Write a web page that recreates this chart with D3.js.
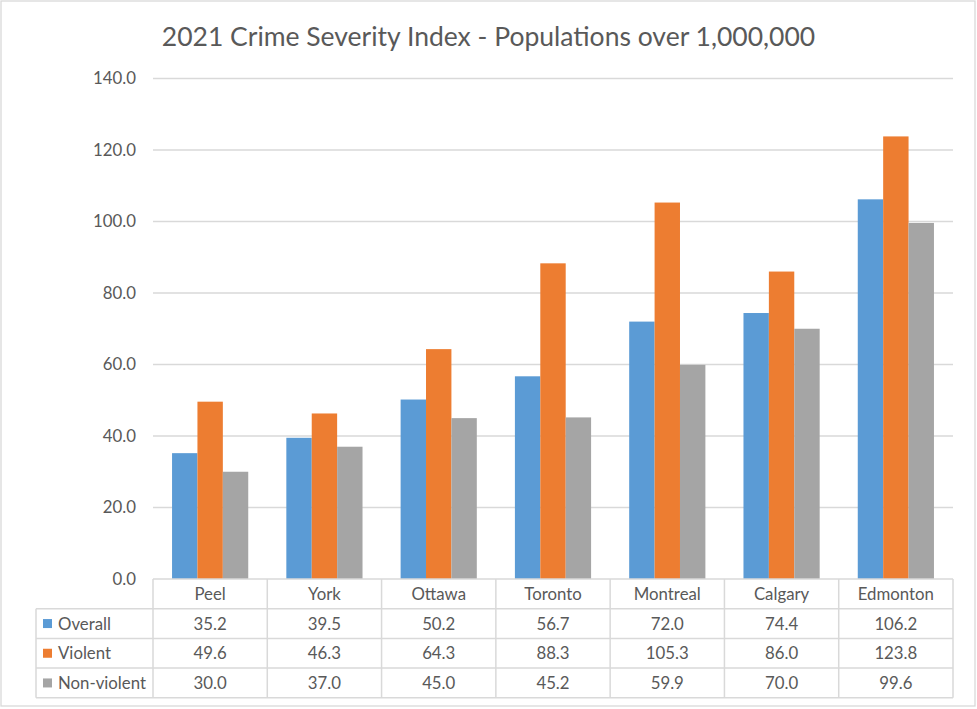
<!DOCTYPE html>
<html>
<head>
<meta charset="utf-8">
<script src="https://cdn.jsdelivr.net/npm/d3@7"></script>
<style>
  html, body { margin: 0; padding: 0; background: #fff; }
  svg text { font-family: Lato, "Open Sans", sans-serif; fill: #595959; }
</style>
</head>
<body>
<div id="chart"></div>
<script>
'use strict';

// Data
const cities = ['Peel', 'York', 'Ottawa', 'Toronto', 'Montreal', 'Calgary', 'Edmonton'];
const seriesNames = ['Overall', 'Violent', 'Non-violent'];
const overall = [35.2, 39.5, 50.2, 56.7, 72.0, 74.4, 106.2];
const violent = [49.6, 46.3, 64.3, 88.3, 105.3, 86.0, 123.8];
const nonViolent = [30.0, 37.0, 45.0, 45.2, 59.9, 70.0, 99.6];
const yTicks = [0, 20, 40, 60, 80, 100, 120, 140];
const colors = ['#5B9BD5', '#ED7D31', '#A5A5A5'];

const series = [overall, violent, nonViolent];

const width = 977, height = 709;
const plot = { left: 153, right: 953, top: 78.5, bottom: 579 };
const rowH = 29.7;
const tableLeft = 36;
const fontSize = '16.8px';

const svg = d3.select('#chart').append('svg')
  .attr('width', width)
  .attr('height', height);

// Outer frame
svg.append('rect')
  .attr('x', 1).attr('y', 1)
  .attr('width', 974).attr('height', 705)
  .attr('fill', '#fff')
  .attr('stroke', '#D9D9D9')
  .attr('stroke-width', 1.3);

// Title
svg.append('text')
  .attr('x', 488.5).attr('y', 46)
  .attr('text-anchor', 'middle')
  .style('font-size', '26.5px')
  .text('2021 Crime Severity Index - Populations over 1,000,000');

// Scales
const x0 = d3.scaleBand()
  .domain(cities)
  .range([plot.left, plot.right])
  .padding(0);

const bw = x0.bandwidth();
const x1 = d3.scaleBand()
  .domain(seriesNames)
  .range([bw / 6, bw * 5 / 6])
  .padding(0);

const y = d3.scaleLinear()
  .domain([0, 140])
  .range([plot.bottom, plot.top]);

// Gridlines
svg.append('g')
  .selectAll('line')
  .data(yTicks.filter(d => d > 0))
  .enter().append('line')
    .attr('x1', plot.left).attr('x2', plot.right)
    .attr('y1', d => y(d)).attr('y2', d => y(d))
    .attr('stroke', '#D9D9D9')
    .attr('stroke-width', 1.3);

// Y axis labels
const yAxis = svg.append('g')
  .attr('transform', 'translate(' + (plot.left - 17) + ',0)')
  .call(d3.axisLeft(y).tickValues(yTicks).tickFormat(d3.format('.1f')).tickSize(0).tickPadding(0));
yAxis.select('.domain').remove();
yAxis.selectAll('text')
  .style('font-size', fontSize)
  .attr('fill', '#595959')
  .style('font-family', 'Lato, "Open Sans", sans-serif');

// Bars
const groups = svg.append('g')
  .selectAll('g')
  .data(cities)
  .enter().append('g')
    .attr('transform', d => 'translate(' + x0(d) + ',0)');

groups.selectAll('rect')
  .data((c, i) => seriesNames.map((s, k) => ({ s: s, k: k, v: series[k][i] })))
  .enter().append('rect')
    .attr('x', d => x1(d.s))
    .attr('width', x1.bandwidth())
    .attr('y', d => y(d.v))
    .attr('height', d => y(0) - y(d.v))
    .attr('fill', d => colors[d.k]);

// Data table
const table = svg.append('g');
const lineColor = '#D9D9D9';
const tBottom = plot.bottom + rowH * 4;

// horizontal lines
table.append('line')
  .attr('x1', plot.left).attr('x2', plot.right)
  .attr('y1', plot.bottom).attr('y2', plot.bottom)
  .attr('stroke', lineColor).attr('stroke-width', 1.5);
[1, 2, 3, 4].forEach(r => {
  table.append('line')
    .attr('x1', tableLeft).attr('x2', plot.right)
    .attr('y1', plot.bottom + rowH * r).attr('y2', plot.bottom + rowH * r)
    .attr('stroke', lineColor).attr('stroke-width', 1.5);
});

// vertical lines
table.append('line')
  .attr('x1', tableLeft).attr('x2', tableLeft)
  .attr('y1', plot.bottom + rowH).attr('y2', tBottom)
  .attr('stroke', lineColor).attr('stroke-width', 1.5);
cities.concat(['end']).forEach((c, i) => {
  const xx = plot.left + bw * i;
  table.append('line')
    .attr('x1', xx).attr('x2', xx)
    .attr('y1', plot.bottom).attr('y2', tBottom)
    .attr('stroke', lineColor).attr('stroke-width', 1.5);
});

// header
table.selectAll('.hdr')
  .data(cities)
  .enter().append('text')
    .attr('class', 'hdr')
    .attr('x', d => x0(d) + bw / 2)
    .attr('y', plot.bottom + rowH / 2 + 6)
    .attr('text-anchor', 'middle')
    .style('font-size', fontSize)
    .text(d => d);

// rows
seriesNames.forEach((s, k) => {
  const rowY = plot.bottom + rowH * (k + 1);
  table.append('rect')
    .attr('x', 43).attr('y', rowY + rowH / 2 - 4.5)
    .attr('width', 9).attr('height', 9)
    .attr('fill', colors[k]);
  table.append('text')
    .attr('x', 58).attr('y', rowY + rowH / 2 + 6)
    .style('font-size', fontSize)
    .text(s);
  table.selectAll('.v' + k)
    .data(series[k])
    .enter().append('text')
      .attr('class', 'v' + k)
      .attr('x', (d, i) => x0(cities[i]) + bw / 2)
      .attr('y', rowY + rowH / 2 + 6)
      .attr('text-anchor', 'middle')
      .style('font-size', fontSize)
      .text(d => d3.format('.1f')(d));
});
</script>
</body>
</html>
